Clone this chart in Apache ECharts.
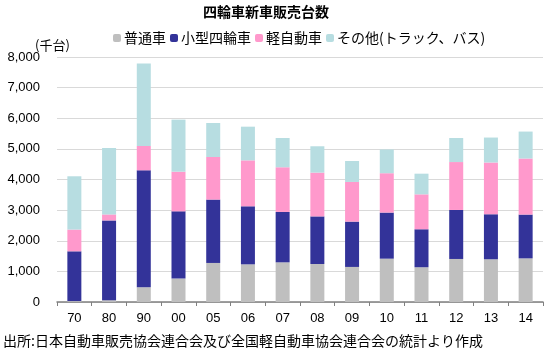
<!DOCTYPE html>
<html>
<head>
<meta charset="utf-8">
<script src="https://cdn.jsdelivr.net/npm/echarts@6/dist/echarts.min.js"></script>
<style>
html, body { margin: 0; padding: 0; background: #fff; }
#main { width: 550px; height: 354px; }
</style>
</head>
<body>
<div id="main"></div>
<script>
var years = ['70', '80', '90', '00', '05', '06', '07', '08', '09', '10', '11', '12', '13', '14'];
var futsu = [30, 60, 480, 765, 1275, 1230, 1295, 1240, 1145, 1415, 1135, 1405, 1395, 1425];
var kogata = [1625, 2605, 3820, 2195, 2070, 1895, 1645, 1555, 1480, 1505, 1240, 1600, 1470, 1430];
var kei = [710, 195, 795, 1295, 1390, 1500, 1460, 1430, 1295, 1285, 1140, 1565, 1690, 1830];
var sonota = [1740, 2165, 2690, 1700, 1110, 1100, 955, 860, 685, 775, 675, 785, 815, 880];
var yTicks = ['0', '1,000', '2,000', '3,000', '4,000', '5,000', '6,000', '7,000', '8,000'];

var font = '"Noto Sans CJK JP", "Noto Sans", sans-serif';
var numFont = '"Liberation Sans", Arial, sans-serif';
var myChart = echarts.init(document.getElementById('main'));

function bar(name, data, color) {
	return {
		name: name,
		type: 'bar',
		stack: 'total',
		barWidth: 14,
		data: data,
		itemStyle: { color: color }
	};
}

var option = {
	backgroundColor: '#fff',
	animation: false,
	textStyle: { fontFamily: font },
	title: {
		text: '四輪車新車販売台数',
		left: 198,
		top: 0,
		textStyle: { fontSize: 14, fontWeight: 'bold', color: '#000', fontFamily: font }
	},
	legend: {
		top: 26,
		left: 108,
		itemWidth: 8,
		itemHeight: 8,
		itemGap: 4,
		textStyle: { fontSize: 14, color: '#000', fontFamily: font, padding: [0, 0, 0, -2] },
		data: ['普通車', '小型四輪車', '軽自動車', 'その他(トラック、バス)']
	},
	graphic: [
		{ type: 'text', left: 35, top: 39, style: { text: '(千台)', font: '13px ' + font, fill: '#000' } },
		{ type: 'text', left: 3, top: 334, style: { text: '出所:日本自動車販売協会連合会及び全国軽自動車協会連合会の統計より作成', font: '14px ' + font, fill: '#000' } }
	],
	grid: { left: 57, right: 7, top: 57, bottom: 52 },
	xAxis: {
		type: 'category',
		data: years,
		axisLine: { lineStyle: { color: '#808080', width: 1.5 } },
		axisTick: { show: true, length: 4, lineStyle: { color: '#808080' } },
		axisLabel: { fontSize: 13, color: '#000', margin: 10, fontFamily: numFont }
	},
	yAxis: {
		type: 'value',
		min: 0,
		max: 8000,
		interval: 1000,
		axisLine: { show: false },
		axisTick: { show: false },
		splitLine: { lineStyle: { color: '#d9d9d9' } },
		axisLabel: {
			fontSize: 13, color: '#000', margin: 17, fontFamily: numFont,
			formatter: function (v) { return yTicks[v / 1000]; }
		}
	},
	series: [
		bar('普通車', futsu, '#bfbfbf'),
		bar('小型四輪車', kogata, '#333399'),
		bar('軽自動車', kei, '#ff99cc'),
		bar('その他(トラック、バス)', sonota, '#b7dde1')
	]
};
myChart.setOption(option);
</script>
</body>
</html>
